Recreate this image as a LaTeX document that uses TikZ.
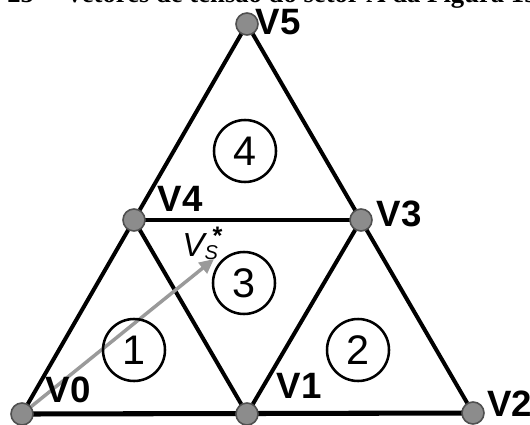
\documentclass[tikz,border=0pt]{standalone}
\usepackage{fontspec}
\setmainfont{Liberation Sans}
\newfontfamily\titlefont{Liberation Serif}
\usetikzlibrary{arrows.meta}
\pgfdeclarelayer{bg}
\pgfdeclarelayer{paper}
\pgfsetlayers{paper,bg,main}
\definecolor{vfill}{HTML}{8C8C8C}
\definecolor{vedge}{HTML}{505050}
\definecolor{arrowgray}{HTML}{9A9A9A}
\tikzset{
  vertex/.style={circle, fill=vfill, draw=vedge, line width=1.2pt, minimum size=16.5pt, inner sep=0pt},
  vlabel/.style={font=\fontsize{27.5}{27.5}\selectfont\bfseries, inner sep=0pt, anchor=center},
  region/.style={circle, draw=black, line width=1.9pt, minimum size=46.5pt, inner sep=0pt, font=\fontsize{31}{31}\selectfont},
  edge/.style={line width=3pt, line cap=round},
  baseedge/.style={line width=3.8pt, line cap=round},
  vsarrow/.style={draw=arrowgray, line width=2.6pt, -{Triangle[length=11pt,width=10pt]}},
}
\begin{document}
\begin{tikzpicture}[x=0.75pt, y=-0.75pt]
\begin{pgfonlayer}{paper}
\fill[white] (0,0) rectangle (530,424);
\end{pgfonlayer}
\useasboundingbox (0,0) rectangle (530,424);

% title (cut off at top)
\node[anchor=base west, inner sep=0pt, font=\titlefont\bfseries\fontsize{20}{20}\selectfont] (title) at (7,3) {25 -- Vetores de tensão do setor A da Figura 13};

% vertices
\node[vertex] (v0) at (22,414) {};
\node[vertex] (v1) at (247,414) {};
\node[vertex] (v2) at (473,413) {};
\node[vertex] (v4) at (134,220) {};
\node[vertex] (v3) at (361,220) {};
\node[vertex] (v5) at (247,24) {};

% edges
\begin{pgfonlayer}{bg}
\draw[baseedge] (v0.center) -- (v2.center);
\draw[edge] (v0.center) -- (v5.center) -- (v2.center);
\draw[edge] (v4.center) -- (v3.center);
\draw[edge] (v4.center) -- (v1.center) -- (v3.center);
\coordinate (vstip) at (214,259);
\draw[vsarrow] (v0.center) -- (vstip);
\end{pgfonlayer}

% region numbers
\node[region] (r4) at (245,151) {4};
\node[region] (r3) at (244,283) {3};
\node[region] (r1) at (134,350) {1};
\node[region] (r2) at (358,350) {2};

% vertex labels
\node[vlabel] (l5) at (278,22) {V5};
\node[vlabel] (l4) at (180,199) {V4};
\node[vlabel] (l3) at (399,214) {V3};
\node[vlabel] (l0) at (68,390) {V0};
\node[vlabel] (l1) at (299,386) {V1};
\node[vlabel, anchor=west] (l2) at (487,404) {V2};

% Vs* label
\node[anchor=base west, inner sep=0pt] (vs) at (182,256) {{\fontsize{25}{25}\selectfont\itshape V}\raisebox{-2.5pt}{\fontsize{15}{15}\selectfont\itshape S}\hspace{-4pt}\raisebox{8.5pt}{\fontsize{19}{19}\selectfont\bfseries *}};
\end{tikzpicture}
\end{document}
